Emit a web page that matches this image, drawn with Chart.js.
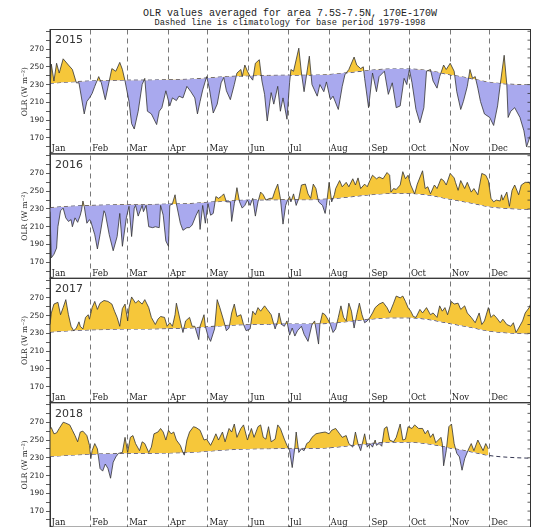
<!DOCTYPE html>
<html>
<head>
<meta charset="utf-8">
<script src="https://cdn.jsdelivr.net/npm/chart.js@4.4.1/dist/chart.umd.min.js"></script>
<style>
  html, body { margin: 0; padding: 0; background: #fff; overflow: hidden; }
  #wrap { position: relative; width: 533px; height: 527px; }
  .ttl { position: absolute; left: 0; width: 580px; text-align: center; white-space: nowrap;
         font-family: "Liberation Mono", monospace; color: #222; }
  canvas { position: absolute; left: 0; top: 0; }
</style>
</head>
<body>
<div id="wrap">
  <div class="ttl" style="top:9px; font-size:10px; line-height:10px;">OLR values averaged for area 7.5S-7.5N, 170E-170W</div>
  <div class="ttl" style="top:19px; font-size:8.7px; line-height:9px;">Dashed line is climatology for base period 1979-1998</div>
  <canvas id="olr" width="533" height="545"></canvas>
</div>
<script>
// Daten (Tag des Jahres, OLR in W m-2)
const years = ['2015', '2016', '2017', '2018'];
const months = ['Jan', 'Feb', 'Mar', 'Apr', 'May', 'Jun', 'Jul', 'Aug', 'Sep', 'Oct', 'Nov', 'Dec'];
const monthStarts = [0, 31, 59, 90, 120, 151, 181, 212, 243, 273, 304, 334, 365];
const yTicks = [160, 170, 180, 190, 200, 210, 220, 230, 240, 250, 260, 270, 280, 290];
const yLabels = [170, 190, 210, 230, 250, 270];

const climDays = [0, 15, 31, 45, 59, 74, 90, 105, 120, 135, 151, 166, 181, 196, 212, 227, 243, 258, 273, 288, 304, 319, 334, 349, 365];
const climOLR = [231.5, 233, 234, 234.5, 235, 235, 235.5, 236, 237.5, 239, 240, 240.3, 240.5, 240.5, 241.3, 243.5, 246, 247.5, 247.5, 245.5, 241, 237, 232.5, 230.5, 229.5];

const days2015 = [0, 1, 3, 5, 7, 10, 14, 17, 20, 22, 26, 28, 30, 32, 34, 37, 39, 42, 45, 47, 50, 53, 55, 57, 60, 62, 64, 67, 70, 72, 74, 77, 81, 83, 85, 88, 91, 93, 96, 98, 101, 104, 107, 110, 112, 114, 116, 119, 121, 124, 127, 130, 132, 134, 137, 140, 142, 145, 146, 148, 150, 152, 154, 156, 159, 161, 163, 165, 168, 170, 173, 175, 177, 180, 182, 183, 185, 189, 191, 193, 197, 199, 203, 205, 208, 210, 213, 215, 219, 222, 224, 227, 231, 233, 236, 238, 239, 242, 245, 248, 250, 254, 257, 260, 263, 266, 269, 271, 273, 275, 278, 281, 284, 286, 289, 291, 294, 296, 299, 301, 304, 307, 309, 312, 314, 317, 319, 321, 323, 325, 327, 330, 334, 337, 340, 342, 345, 347, 348, 350, 353, 357, 360, 362, 365];
const olr2015 = [222, 253, 234, 254, 243, 259, 252, 247, 232, 232, 197, 211, 215, 220, 228, 239, 232, 213, 234, 248, 245, 255, 247, 234, 211, 186, 180, 200, 230, 237, 200, 197, 185, 200, 204, 223, 206, 215, 212, 217, 215, 228, 222, 215, 197, 211, 224, 239, 226, 198, 208, 232, 238, 223, 213, 230, 243, 247, 239, 252, 245, 239, 235, 254, 258, 234, 219, 189, 221, 208, 228, 200, 215, 191, 232, 247, 245, 271, 243, 222, 262, 230, 217, 230, 222, 233, 213, 217, 202, 228, 241, 247, 261, 252, 248, 250, 237, 204, 243, 222, 239, 245, 219, 232, 204, 206, 237, 230, 247, 232, 202, 187, 204, 245, 247, 234, 226, 239, 252, 247, 254, 245, 222, 202, 211, 228, 247, 237, 239, 226, 211, 197, 193, 184, 206, 230, 263, 230, 193, 200, 204, 193, 178, 160, 173];

const days2016 = [0, 1, 3, 5, 6, 8, 10, 12, 14, 16, 17, 19, 21, 23, 24, 25, 26, 28, 30, 31, 34, 36, 38, 41, 42, 45, 48, 51, 53, 55, 58, 60, 62, 64, 65, 67, 70, 71, 73, 75, 78, 80, 83, 84, 86, 88, 90, 91, 93, 95, 96, 99, 101, 104, 106, 108, 111, 113, 114, 116, 118, 120, 122, 124, 126, 128, 130, 132, 134, 137, 138, 140, 142, 144, 146, 148, 150, 152, 154, 156, 158, 160, 162, 164, 167, 169, 171, 173, 175, 177, 179, 180, 182, 183, 185, 187, 189, 191, 194, 196, 198, 200, 202, 204, 207, 209, 210, 212, 214, 216, 217, 220, 222, 225, 227, 230, 232, 234, 236, 239, 241, 243, 245, 248, 250, 253, 256, 258, 259, 261, 263, 266, 268, 270, 272, 274, 277, 279, 283, 285, 287, 289, 292, 294, 297, 299, 301, 304, 307, 308, 310, 312, 315, 317, 320, 322, 325, 328, 331, 333, 335, 337, 339, 342, 343, 344, 347, 349, 351, 353, 356, 358, 361, 364, 365];
const olr2016 = [227, 175, 179, 186, 210, 228, 231, 220, 216, 218, 210, 220, 215, 223, 229, 239, 233, 214, 218, 216, 201, 185, 201, 228, 225, 201, 183, 199, 225, 188, 220, 233, 199, 231, 234, 222, 234, 227, 234, 210, 209, 210, 209, 234, 223, 194, 188, 234, 236, 246, 236, 214, 206, 209, 209, 212, 223, 229, 207, 234, 214, 236, 223, 225, 244, 242, 244, 247, 238, 238, 216, 236, 254, 238, 231, 234, 240, 234, 242, 222, 238, 249, 246, 240, 242, 242, 251, 258, 242, 213, 234, 238, 244, 238, 247, 234, 242, 257, 258, 247, 242, 258, 253, 238, 234, 225, 234, 260, 238, 246, 253, 262, 255, 260, 255, 264, 257, 265, 253, 258, 255, 262, 268, 264, 266, 264, 271, 268, 249, 253, 252, 257, 272, 264, 268, 257, 247, 258, 273, 253, 255, 247, 257, 253, 264, 262, 257, 270, 265, 260, 251, 262, 253, 260, 249, 253, 246, 270, 268, 262, 242, 238, 240, 239, 246, 240, 249, 233, 251, 257, 246, 257, 260, 260, 257];

const days2017 = [0, 1, 3, 6, 8, 10, 12, 14, 16, 18, 20, 22, 23, 25, 27, 29, 30, 32, 34, 36, 38, 41, 44, 47, 49, 51, 53, 55, 57, 59, 60, 62, 65, 67, 70, 72, 75, 77, 80, 82, 84, 87, 89, 91, 93, 95, 96, 99, 101, 103, 106, 108, 110, 113, 114, 117, 118, 120, 122, 125, 127, 129, 132, 134, 136, 138, 140, 142, 145, 147, 149, 152, 154, 156, 158, 160, 163, 165, 168, 171, 173, 174, 176, 178, 180, 182, 184, 186, 188, 191, 193, 196, 199, 201, 204, 205, 207, 209, 211, 213, 215, 217, 219, 221, 223, 225, 227, 229, 231, 233, 235, 237, 239, 241, 243, 245, 247, 250, 253, 256, 258, 261, 263, 266, 268, 270, 272, 274, 276, 278, 281, 283, 286, 289, 291, 294, 296, 298, 300, 302, 305, 307, 310, 312, 315, 317, 320, 323, 326, 328, 330, 333, 335, 337, 339, 342, 344, 347, 350, 352, 354, 356, 359, 361, 364, 365];
const olr2017 = [240, 253, 263, 265, 251, 259, 268, 251, 238, 233, 236, 243, 238, 235, 248, 251, 246, 259, 266, 257, 264, 267, 266, 263, 255, 248, 238, 258, 263, 244, 259, 271, 264, 267, 263, 268, 259, 248, 240, 246, 249, 248, 238, 242, 238, 251, 264, 244, 231, 244, 248, 238, 238, 223, 238, 251, 238, 227, 221, 235, 268, 259, 244, 233, 236, 253, 263, 249, 251, 240, 233, 235, 255, 251, 259, 255, 261, 257, 251, 235, 244, 253, 240, 238, 244, 228, 236, 227, 233, 238, 229, 221, 240, 244, 218, 240, 253, 251, 246, 240, 231, 235, 248, 261, 248, 244, 264, 255, 236, 251, 264, 251, 242, 244, 248, 253, 259, 263, 265, 259, 253, 264, 272, 270, 272, 266, 259, 255, 249, 248, 257, 253, 259, 251, 253, 248, 261, 255, 259, 251, 266, 263, 264, 257, 261, 253, 248, 242, 253, 240, 244, 259, 248, 251, 248, 242, 246, 240, 238, 242, 231, 236, 244, 253, 259, 263];

const days2018 = [0, 1, 3, 5, 7, 10, 12, 15, 17, 19, 21, 23, 25, 28, 30, 31, 32, 34, 36, 38, 40, 42, 44, 46, 48, 50, 52, 55, 57, 59, 61, 63, 65, 68, 70, 72, 75, 77, 79, 82, 84, 86, 88, 90, 92, 94, 96, 99, 101, 102, 104, 106, 109, 111, 114, 117, 119, 122, 124, 126, 128, 131, 133, 136, 138, 140, 142, 145, 147, 150, 153, 155, 158, 160, 162, 164, 166, 168, 171, 173, 175, 178, 180, 182, 184, 186, 187, 189, 191, 193, 195, 197, 199, 202, 205, 209, 212, 214, 217, 220, 222, 225, 227, 230, 232, 234, 236, 239, 241, 243, 245, 247, 248, 250, 252, 254, 256, 258, 261, 263, 266, 268, 270, 272, 275, 277, 280, 283, 285, 287, 289, 291, 293, 295, 297, 298, 299, 301, 303, 305, 307, 309, 311, 313, 315, 318, 320, 322, 325, 327, 329, 331, 333];
const olr2018 = [263, 264, 257, 258, 263, 270, 269, 267, 261, 255, 248, 259, 260, 255, 244, 229, 238, 246, 240, 218, 215, 223, 218, 207, 225, 231, 235, 236, 253, 236, 253, 255, 246, 238, 248, 246, 236, 242, 257, 259, 263, 259, 250, 261, 257, 259, 250, 244, 236, 233, 250, 259, 265, 264, 261, 250, 251, 244, 250, 257, 250, 259, 248, 263, 259, 268, 253, 263, 267, 250, 263, 253, 265, 267, 253, 251, 265, 248, 251, 267, 263, 251, 244, 238, 219, 242, 259, 236, 240, 238, 246, 248, 253, 257, 258, 259, 257, 261, 263, 257, 253, 255, 246, 242, 259, 246, 238, 257, 242, 246, 242, 250, 244, 246, 243, 263, 265, 250, 248, 253, 268, 250, 251, 265, 263, 267, 263, 263, 257, 261, 253, 257, 247, 250, 253, 246, 221, 238, 265, 268, 246, 235, 231, 216, 229, 240, 246, 238, 250, 244, 238, 246, 240];

const allDays = [days2015, days2016, days2017, days2018];
const allOLR = [olr2015, olr2016, olr2017, olr2018];

const YELLOW = '#F6C73A';
const PURPLE = '#A9A9EE';
const INK = '#333';

// Datensätze: pro Jahr die Messreihe und die Klimatologie
const datasets = [];
years.forEach((yr, i) => {
    datasets.push({
        label: yr,
        data: allDays[i].map((d, k) => ({ x: d, y: allOLR[i][k] })),
        xAxisID: 'x',
        yAxisID: 'y' + i,
        borderColor: INK,
        borderWidth: 0.8,
        pointRadius: 0,
        tension: 0,
        fill: { target: 2 * i + 1, above: YELLOW, below: PURPLE }
    });
    datasets.push({
        label: 'clim ' + yr,
        data: climDays.map((d, k) => ({ x: d, y: climOLR[k] })),
        xAxisID: 'x',
        yAxisID: 'y' + i,
        borderColor: '#1e2040',
        borderWidth: 0.9,
        borderDash: [4, 3],
        pointRadius: 0,
        cubicInterpolationMode: 'monotone',
        fill: false
    });
});

// Achsen: eine gemeinsame x-Achse, vier gestapelte y-Achsen
const scales = {
    x: {
        type: 'linear',
        min: 0,
        max: 365,
        afterBuildTicks: s => { s.ticks = monthStarts.map(v => ({ value: v })); },
        afterFit: s => { s.height = 0; },
        ticks: { display: false },
        grid: { color: '#555', lineWidth: 0.8, drawTicks: false },
        border: { display: false, dash: [5, 4] }
    }
};
years.forEach((yr, i) => {
    scales['y' + i] = {
        type: 'linear',
        position: 'left',
        stack: 'panels',
        stackWeight: 1,
        weight: 4 - i,
        min: 152,
        max: 292,
        afterBuildTicks: s => { s.ticks = yTicks.map(v => ({ value: v })); },
        afterFit: s => { s.width = 50; },
        ticks: {
            autoSkip: false,
            padding: 2,
            color: '#222',
            font: { family: 'DejaVu Sans', size: 7.5 },
            callback: v => yLabels.includes(v) ? String(v) : ''
        },
        grid: { drawOnChartArea: false, drawTicks: true, tickLength: 4, color: INK, lineWidth: 0.8 },
        border: { display: true, color: INK, width: 1 },
        title: {
            display: true,
            text: 'OLR (W m⁻²)',
            color: '#222',
            font: { family: 'DejaVu Serif', size: 7.5 },
            padding: { top: 20.5, bottom: 0 }
        }
    };
});

// Rahmen, kleine Striche rechts, Jahreszahl und Monatsnamen je Feld
const panelDecor = {
    id: 'panelDecor',
    afterDraw(chart) {
        const { ctx, chartArea, scales } = chart;
        const xs = scales.x;
        years.forEach((yr, i) => {
            const ys = scales['y' + i];
            ctx.save();
            ctx.strokeStyle = INK;
            ctx.lineWidth = 1;
            ctx.strokeRect(chartArea.left, ys.top, chartArea.right - chartArea.left, ys.bottom - ys.top);
            ctx.lineWidth = 0.8;
            ctx.beginPath();
            yTicks.forEach(v => {
                const py = ys.getPixelForValue(v);
                ctx.moveTo(chartArea.right - 3, py);
                ctx.lineTo(chartArea.right, py);
            });
            ctx.stroke();
            ctx.fillStyle = '#333';
            ctx.font = '11px "DejaVu Sans"';
            ctx.textBaseline = 'middle';
            ctx.fillText(yr, chartArea.left + 5, ys.top + 11);
            ctx.fillStyle = '#222';
            ctx.font = '8.5px "DejaVu Serif"';
            ctx.textBaseline = 'alphabetic';
            months.forEach((m, k) => {
                ctx.fillText(m, xs.getPixelForValue(monthStarts[k]) + 1.5, ys.bottom - 2.5);
            });
            ctx.restore();
        });
    }
};

new Chart(document.getElementById('olr'), {
    type: 'line',
    data: { datasets: datasets },
    options: {
        responsive: false,
        animation: false,
        events: [],
        layout: { padding: { top: 29.5, left: 0, right: 2.5, bottom: 17.9 } },
        scales: scales,
        plugins: {
            legend: { display: false },
            tooltip: { enabled: false },
            filler: { propagate: false }
        }
    },
    plugins: [panelDecor]
});
</script>
</body>
</html>
